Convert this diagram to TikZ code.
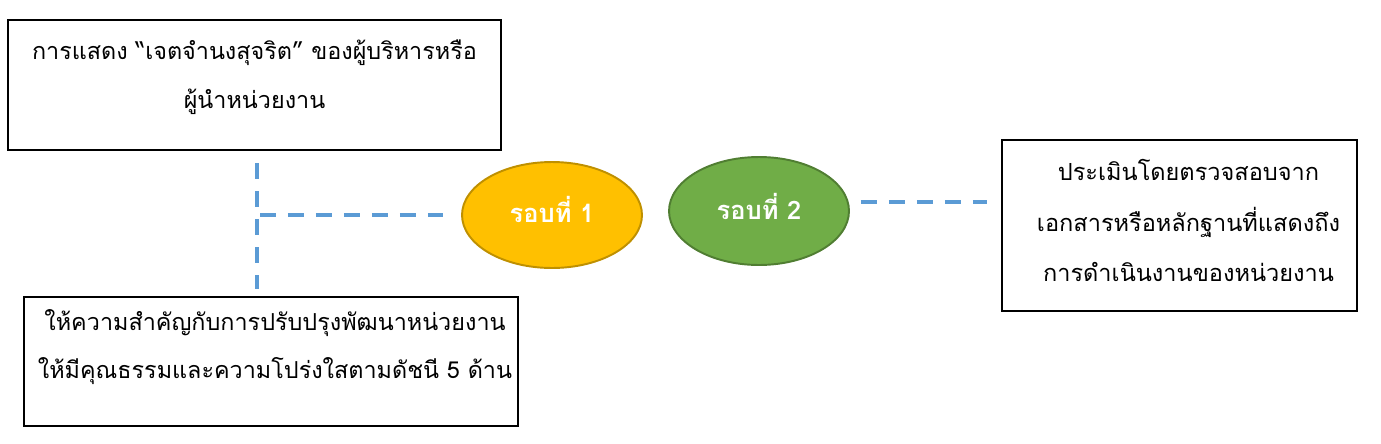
\documentclass[tikz,border=0pt]{standalone}
\usepackage{fontspec}
\newfontfamily\thaifont[Script=Thai]{Loma}
\usetikzlibrary{shapes.geometric}
\definecolor{linkblue}{HTML}{5B9BD5}
\definecolor{roundone}{HTML}{FFC000}
\definecolor{roundoneedge}{HTML}{BF9000}
\definecolor{roundtwo}{HTML}{70AD47}
\definecolor{roundtwoedge}{HTML}{507E32}
\tikzset{
  frame/.style={draw=black,line width=1.2pt,inner sep=0pt},
  boxtext/.style={inner sep=0pt,align=center,font=\thaifont\fontsize{13.3}{27.8}\selectfont},
  roundnode/.style={ellipse,line width=1.1pt,inner sep=0pt,text=white,
    font=\thaifont\bfseries\fontsize{14.5}{16}\selectfont},
  link/.style={draw=linkblue,line width=2.3pt,dash pattern=on 0.32cm off 0.24cm}
}
\begin{document}
\begin{tikzpicture}[x=0.02cm,y=-0.02cm]
\useasboundingbox (0,0) rectangle (1381,443);
% boxes
\node[frame,minimum width=9.86cm,minimum height=2.6cm] (b1) at (254.5,85) {};
\node[boxtext] (t1) at ([yshift=0.16cm]b1.center) {การแสดง “เจตจำนงสุจริต” ของผู้บริหารหรือ\\ผู้นำหน่วยงาน};
\node[frame,minimum width=9.88cm,minimum height=2.58cm] (b2) at (271,361.5) {};
\node[boxtext] (t2) at ([xshift=0.08cm,yshift=0.29cm]b2.center) {ให้ความสำคัญกับการปรับปรุงพัฒนาหน่วยงาน\\ให้มีคุณธรรมและความโปร่งใสตามดัชนี 5 ด้าน};
\node[frame,minimum width=7.1cm,minimum height=3.42cm] (b3) at (1179.5,225.5) {};
\node[boxtext,font=\thaifont\fontsize{13.4}{29}\selectfont] (t3) at ([xshift=0.18cm,yshift=0.1cm]b3.center) {ประเมินโดยตรวจสอบจาก\\เอกสารหรือหลักฐานที่แสดงถึง\\การดำเนินงานของหน่วยงาน};
% rounds
\node[roundnode,fill=roundone,draw=roundoneedge,minimum width=3.6cm,minimum height=2.12cm] (r1) at (552,215) {\raisebox{0.24cm}{รอบที่ 1}};
\node[roundnode,fill=roundtwo,draw=roundtwoedge,minimum width=3.6cm,minimum height=2.16cm] (r2) at (759,211) {\raisebox{0.2cm}{รอบที่ 2}};
% dashed links
\coordinate (v) at (257,0);
\draw[link] ([yshift=-0.24cm]b1.south -| v) -- ([yshift=0.14cm]b2.north -| v);
\draw[link] ([xshift=0.06cm]v |- r1.west) -- ([xshift=-0.36cm]r1.west);
\draw[link] ([xshift=0.22cm,yshift=0.18cm]r2.east) coordinate (p) -- ([xshift=-0.28cm]b3.west |- p);
\end{tikzpicture}
\end{document}
